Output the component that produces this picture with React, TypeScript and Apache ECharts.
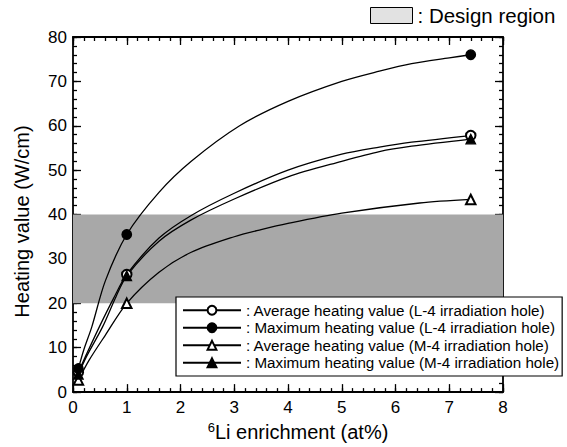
import React, { useEffect, useRef } from "react";
import * as echarts from "echarts";

// Measured points (markers)
const enrichment = [0.1, 1, 7.4];
const avgL4 = [4.5, 26.5, 57.8];
const maxL4 = [5.3, 35.5, 76];
const avgM4 = [2.7, 20, 43.4];
const maxM4 = [4.0, 26.2, 57.0];

// Intermediate points
const maxL4CurveX = [0.2, 0.35, 0.6, 1.6, 2.2, 3.1, 4, 5, 5.7, 6.3, 7];
const maxL4CurveY = [9.5, 14.7, 25, 45, 52, 60, 65.5, 70, 72.3, 74.0, 75.3];
const avgL4CurveX = [0.25, 0.49, 0.75, 1.6, 2.2, 3, 4, 5, 5.7, 6.3];
const avgL4CurveY = [8.5, 14.7, 21, 34.7, 39.8, 44.8, 50, 53.6, 55.2, 56.3];
const maxM4CurveX = [0.25, 0.55, 0.8, 1.6, 2.2, 3, 4, 5, 5.7, 6.3];
const maxM4CurveY = [8, 14.7, 21.5, 34, 38.8, 43.5, 48.5, 52, 54.2, 55.4];
const avgM4CurveX = [0.3, 0.6, 1.6, 2.2, 3, 3.5, 4, 5, 6.45];
const avgM4CurveY = [7.2, 12.8, 27, 31.5, 35, 36.6, 38, 40.3, 42.6];

// Design region band
const designLow = 20;
const designHigh = 40;

const seriesNames = [
  "Average heating value (L-4 irradiation hole)",
  "Maximum heating value (L-4 irradiation hole)",
  "Average heating value (M-4 irradiation hole)",
  "Maximum heating value (M-4 irradiation hole)",
];

const FONT = "'Liberation Sans', Arial, Helvetica, sans-serif";

function buildSeries(
  name: string,
  ys: number[],
  cx: number[],
  cy: number[],
  symbol: string
) {
  const pts: any[] = [];
  enrichment.forEach((x, i) => pts.push({ value: [x, ys[i]] }));
  cx.forEach((x, i) => pts.push({ value: [x, cy[i]], symbol: "none" }));
  pts.sort((a, b) => a.value[0] - b.value[0]);
  return {
    type: "line",
    name,
    xAxisIndex: 0,
    yAxisIndex: 0,
    data: pts,
    symbol,
    symbolSize: 9.5,
    showAllSymbol: true,
    smooth: 0.3,
    lineStyle: { color: "#000", width: 1.3 },
    itemStyle: { color: "#000", borderColor: "#000", borderWidth: 1.3 },
    z: 3,
  };
}

function makeAxis(
  position: string,
  min: number,
  max: number,
  interval: number,
  tickLen: number,
  showLine: boolean,
  label: any
) {
  return {
    type: "value",
    position,
    min,
    max,
    interval,
    axisLine: { show: showLine, onZero: false, lineStyle: { color: "#000", width: 1.8 } },
    axisTick: { show: true, inside: true, length: tickLen, lineStyle: { color: "#000", width: 1.3 } },
    splitLine: { show: false },
    axisLabel: label,
  };
}

export default function App() {
  const ref = useRef<HTMLDivElement>(null);
  useEffect(() => {
    document.body.style.margin = "0";
    if (!ref.current) return;
    const chart = echarts.init(ref.current, undefined, { renderer: "svg" });
    const labelStyle = { color: "#000", fontSize: 17, fontFamily: FONT };
    const hidden = { show: false };
    chart.setOption({
      animation: false,
      backgroundColor: "#fff",
      grid: { left: 73, top: 37, width: 430, height: 359 },
      xAxis: [
        {
          ...makeAxis("bottom", 0, 8, 1, 8, true, { ...labelStyle, margin: 7 }),
          name: "{sup|6}Li enrichment (at%)",
          nameLocation: "middle",
          nameGap: 27,
          nameTextStyle: {
            color: "#000",
            fontSize: 20,
            fontFamily: FONT,
            padding: [0, 0, 0, 20],
            rich: {
              sup: { fontSize: 13, fontFamily: FONT, color: "#000", padding: [0, 0, 9, 0] },
            },
          },
        },
        makeAxis("bottom", 0, 8, 0.2, 4, false, hidden),
        makeAxis("top", 0, 8, 1, 8, true, hidden),
        makeAxis("top", 0, 8, 0.2, 4, false, hidden),
      ],
      yAxis: [
        {
          ...makeAxis("left", 0, 80, 10, 8, true, { ...labelStyle, margin: 6 }),
          name: "Heating value (W/cm)",
          nameLocation: "middle",
          nameGap: 41,
          nameTextStyle: {
            color: "#000",
            fontSize: 20,
            fontFamily: FONT,
            padding: [0, 14, 0, 0],
          },
        },
        makeAxis("left", 0, 80, 2, 4, false, hidden),
        makeAxis("right", 0, 80, 10, 8, true, hidden),
        makeAxis("right", 0, 80, 2, 4, false, hidden),
      ],
      legend: [
        {
          orient: "vertical",
          left: 176,
          top: 297,
          padding: [4.5, 3, 4.5, 6],
          itemWidth: 58,
          itemHeight: 11,
          itemGap: 0,
          backgroundColor: "#fff",
          borderColor: "#000",
          borderWidth: 1.2,
          selectedMode: false,
          data: seriesNames,
          formatter: (n: string) => ": " + n,
          textStyle: { color: "#000", fontSize: 15.2, fontFamily: FONT, lineHeight: 17.5 },
          z: 10,
        },
        {
          left: 370,
          top: 5,
          padding: 0,
          itemWidth: 42,
          itemHeight: 16,
          selectedMode: false,
          data: [
            {
              name: "Design region",
              icon: "rect",
              itemStyle: { color: "#e2e2e2", borderColor: "#000", borderWidth: 1 },
            },
          ],
          formatter: () => ": Design region",
          textStyle: { color: "#000", fontSize: 20.5, fontFamily: FONT },
        },
      ],
      series: [
        {
          type: "line",
          name: "Design region",
          xAxisIndex: 0,
          yAxisIndex: 0,
          data: [],
          z: 1,
          markArea: {
            silent: true,
            itemStyle: { color: "#a8a8a8" },
            data: [[{ yAxis: designLow }, { yAxis: designHigh }]],
          },
        },
        buildSeries(seriesNames[0], avgL4, avgL4CurveX, avgL4CurveY, "emptyCircle"),
        buildSeries(seriesNames[1], maxL4, maxL4CurveX, maxL4CurveY, "circle"),
        buildSeries(seriesNames[2], avgM4, avgM4CurveX, avgM4CurveY, "emptyTriangle"),
        buildSeries(seriesNames[3], maxM4, maxM4CurveX, maxM4CurveY, "triangle"),
      ],
    });
    return () => chart.dispose();
  }, []);
  return <div ref={ref} style={{ width: 567, height: 447 }} />;
}
